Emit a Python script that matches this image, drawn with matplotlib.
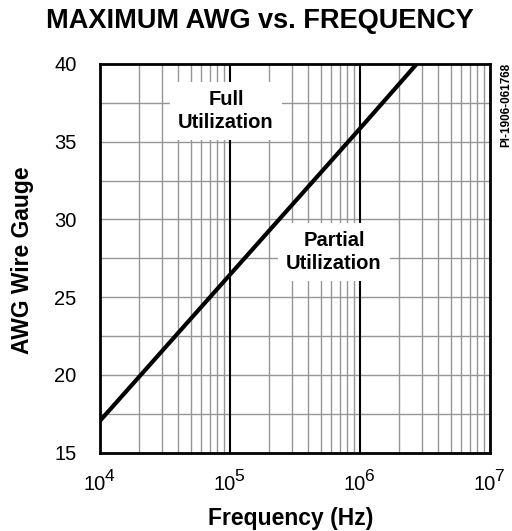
import matplotlib
matplotlib.use("Agg")
import matplotlib.pyplot as plt
from matplotlib.ticker import FixedLocator
import numpy as np

plt.rcParams['font.family'] = ['Liberation Sans', 'DejaVu Sans']

# Data
freq_hz = [1e4, 1e5, 1e6, 2.73e6]
awg = [17.05, 26.45, 35.85, 40.0]
y_ticks = [15, 20, 25, 30, 35, 40]
x_ticks = [1e4, 1e5, 1e6, 1e7]
x_tick_exponents = ['4', '5', '6', '7']

fig = plt.figure(figsize=(5.12, 5.31), dpi=100)
ax = fig.add_axes([0.1953, 0.1475, 0.7617, 0.732])
ax.set_xscale('log')
ax.set_xlim(1e4, 1e7)
ax.set_ylim(15, 40)

# grid
minor_x = [m * 10**e for e in (4, 5, 6) for m in range(2, 10)]
for xv in minor_x:
    ax.axvline(xv, color='#959595', lw=1.0, zorder=1)
for xv in x_ticks[1:-1]:
    ax.axvline(xv, color='black', lw=1.5, zorder=1.5)
for yv in np.arange(17.5, 40, 2.5):
    ax.axhline(yv, color='#959595', lw=1.0, zorder=1)

ax.plot(freq_hz, awg, color='black', lw=3, solid_capstyle='butt', zorder=3)

ax.set_xticks(x_ticks)
ax.set_xticklabels([''] * len(x_ticks))
ax.xaxis.set_minor_locator(FixedLocator([]))
ax.set_yticks(y_ticks)
ax.tick_params(axis='both', which='both', length=0, labelsize=14.5)
ax.tick_params(axis='y', pad=17)
for s in ax.spines.values():
    s.set_linewidth(2)
    s.set_zorder(4)

# x tick labels: 10 with large exponent
for xt, ex in zip(x_ticks, x_tick_exponents):
    ax.annotate('10', xy=(xt, 0), xycoords=('data', 'axes fraction'),
                xytext=(-4, -16), textcoords='offset points',
                ha='center', va='top', fontsize=14.5, annotation_clip=False)
    ax.annotate(ex, xy=(xt, 0), xycoords=('data', 'axes fraction'),
                xytext=(3, -12), textcoords='offset points',
                ha='left', va='top', fontsize=12.5, annotation_clip=False)

ax.set_xlabel('Frequency (Hz)', fontsize=16.5, fontweight='bold')
ax.xaxis.set_label_coords(0.49, -0.17)
ax.xaxis.label.set_va('center')
ax.set_ylabel('AWG Wire Gauge', fontsize=16.5, fontweight='bold')
ax.yaxis.set_label_coords(-0.198, 0.495)
ax.yaxis.label.set_va('center')

fig.text(0.508, 0.960, 'MAXIMUM AWG vs. FREQUENCY', ha='center', va='center',
         fontsize=19.5, fontweight='bold')

ax.text(9.3e4, 36.98, 'Full\nUtilization', ha='center', va='center',
        fontsize=14.5, fontweight='bold', linespacing=1.3, zorder=2,
        bbox=dict(boxstyle='square,pad=0.4', facecolor='white', edgecolor='none'))
ax.text(6.3e5, 27.9, 'Partial\nUtilization', ha='center', va='center',
        fontsize=14.5, fontweight='bold', linespacing=1.3, zorder=2,
        bbox=dict(boxstyle='square,pad=0.4', facecolor='white', edgecolor='none'))

fig.text(0.988, 0.881, 'PI-1906-061768', rotation=90, ha='center', va='top',
         fontsize=8.5, fontweight='bold')

fig.savefig('out.png', dpi=100)
